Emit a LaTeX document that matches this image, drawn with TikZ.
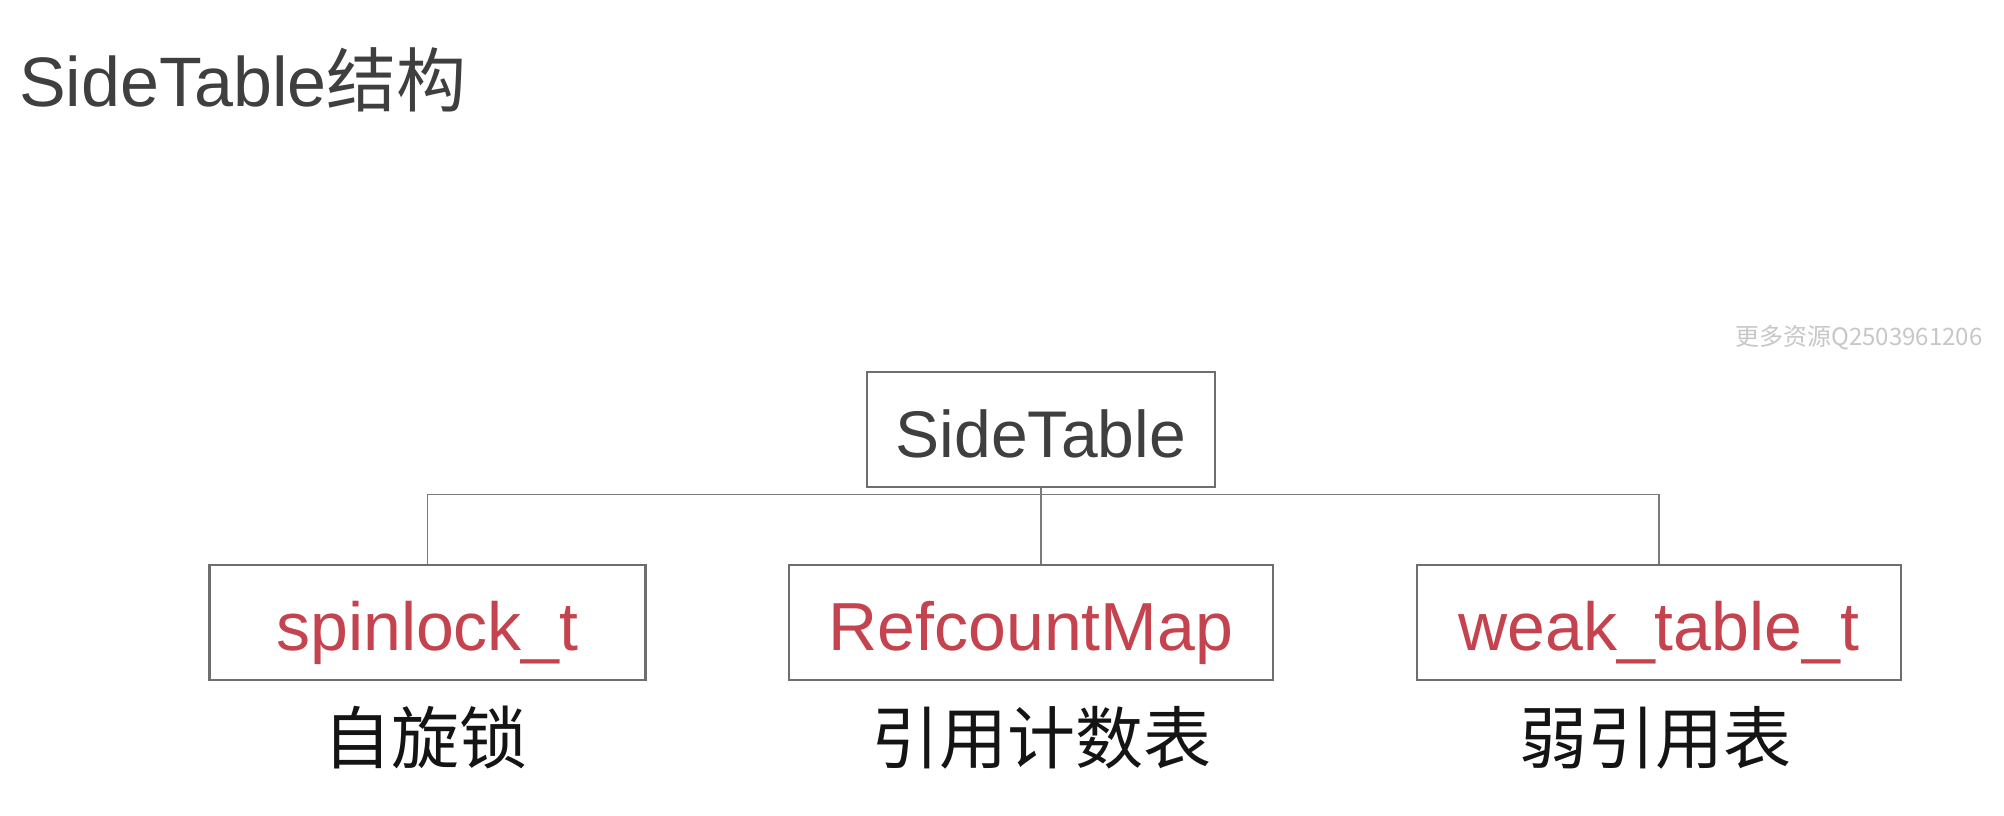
\documentclass[tikz,border=0pt]{standalone}
\usepackage{fontspec}
\setmainfont{Liberation Sans}
\newfontfamily\cjk{Noto Sans CJK SC}
\usetikzlibrary{positioning}
\definecolor{boxgray}{HTML}{6E6E6E}
\definecolor{linegray}{HTML}{7A7A7A}
\definecolor{titlegray}{HTML}{3F3F3F}
\definecolor{keyred}{HTML}{C4434E}
\tikzstyle{box} = [draw=boxgray,line width=2.2pt,inner sep=0pt,minimum height=115pt,text height=56pt,text depth=0pt]
\tikzstyle{member} = [box,text=keyred,font=\fontsize{68pt}{80pt}\selectfont]
\tikzstyle{note} = [inner sep=0pt,text=black!92,font=\cjk\fontsize{68pt}{80pt}\selectfont]
\tikzstyle{connector} = [draw=linegray,line width=1.8pt]

\begin{document}
\begin{tikzpicture}[x=1pt,y=-1pt]
	\useasboundingbox[fill=white] (0,0) rectangle (2004,816);
	
	% define constants
	\def \top {429.8}
	\def \row {622.5}
	\def \gap {25pt}
	
	% Title
	\node[anchor=base west,inner sep=0pt,text=titlegray,font=\fontsize{70pt}{84pt}\selectfont] (title) at (19,106) {SideTable{\cjk 结构}};
	\node[inner sep=0pt,text=black!22,font=\cjk\fontsize{24pt}{28pt}\selectfont] (mark) at (1859,338) {更多资源Q2503961206};
	
	% Draw the boxes
	\node[box,minimum width=348pt,text=titlegray,font=\fontsize{66pt}{78pt}\selectfont] (root) at (1040.8,\top) {SideTable};
	\node[member,minimum width=436pt] (spin) at (427.5,\row) {spinlock\_t};
	\node[member,minimum width=484pt] (refc) at (1030.9,\row) {RefcountMap};
	\node[member,minimum width=484pt] (weak) at (1658.7,\row) {weak\_table\_t};
	
	% Notes below
	\node[note,below=\gap of spin,xshift=-2pt] (spinnote) {自旋锁};
	\node[note,below=\gap of refc,xshift=11pt] (refcnote) {引用计数表};
	\node[note,below=\gap of weak,xshift=-3pt] (weaknote) {弱引用表};
	
	% Connectors
	\coordinate (bus) at ([yshift=-6pt]root.south);
	\draw[connector] (spin.north) |- (bus) -| (weak.north);
	\draw[connector] (root.south) -- (root.south |- refc.north);
	
\end{tikzpicture}
\end{document}
